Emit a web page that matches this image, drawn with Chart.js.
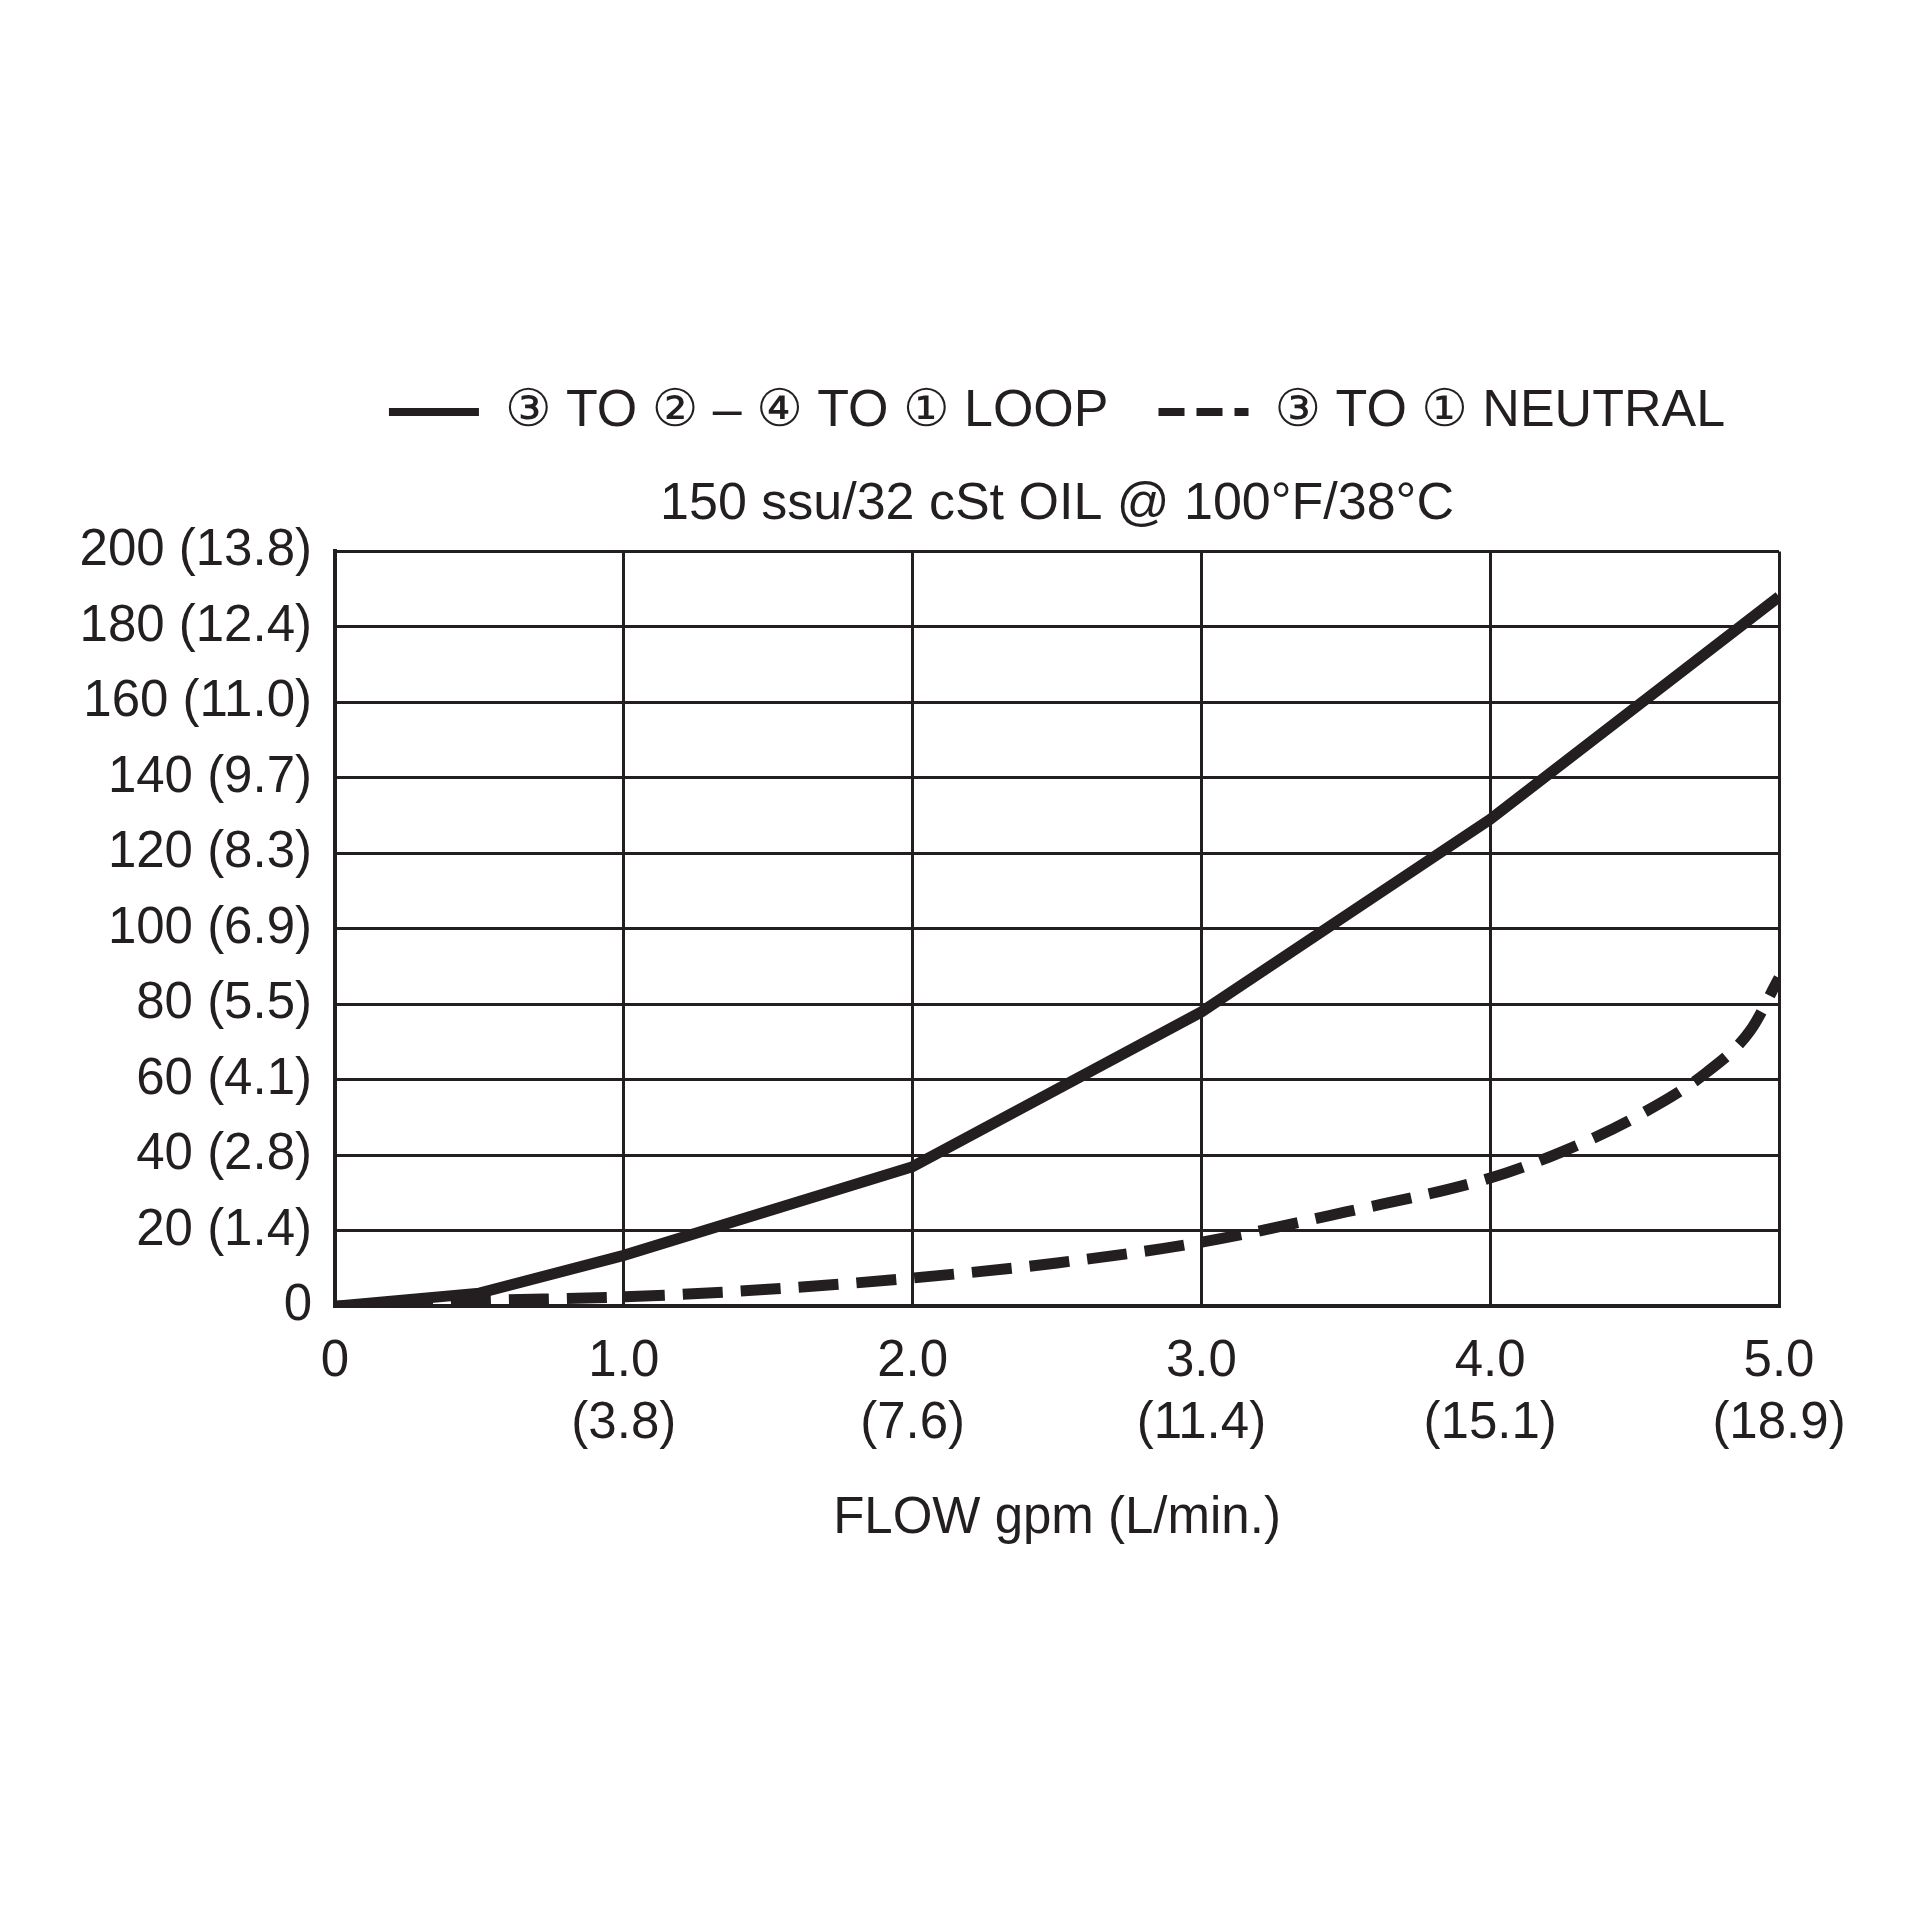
<!DOCTYPE html>
<html>
<head>
<meta charset="utf-8">
<title>Pressure drop vs flow</title>
<script src="https://cdn.jsdelivr.net/npm/chart.js@4.4.0/dist/chart.umd.min.js"></script>
<style>
    html, body { margin: 0; padding: 0; background: #ffffff; }
    #wrap { width: 1920px; height: 1920px; }
</style>
</head>
<body>
<div id="wrap"><canvas id="flowChart" width="1920" height="1920"></canvas></div>
<script>
// Axis ticks and labels
const flowTicks = [0, 1, 2, 3, 4, 5];
const gpmLabels = ['0', '1.0', '2.0', '3.0', '4.0', '5.0'];
const lpmLabels = ['', '(3.8)', '(7.6)', '(11.4)', '(15.1)', '(18.9)'];

const psiTicks = [0, 20, 40, 60, 80, 100, 120, 140, 160, 180, 200];
const psiLabels = ['0', '20', '40', '60', '80', '100', '120', '140', '160', '180', '200'];
const barLabels = ['', '(1.4)', '(2.8)', '(4.1)', '(5.5)', '(6.9)', '(8.3)', '(9.7)', '(11.0)', '(12.4)', '(13.8)'];

// Series
const loopFlow = [0, 0.5, 1.0, 2.0, 3.0, 4.0, 5.0];
const loopPressure = [0, 3.5, 13.5, 37, 78, 129, 188];

const neutralFlow = [0, 0.5, 1.0, 1.5, 2.0, 2.5, 3.0, 3.5, 4.0, 4.25, 4.5, 4.75, 4.9, 5.0];
const neutralPressure = [0, 1.5, 2.5, 4.5, 7.5, 11.5, 17, 25, 34, 41, 50, 62, 73, 87];

const ink = '#231f20';
const fontFamily = '"Liberation Sans", "DejaVu Sans", Arial, sans-serif';

const toPoints = (xs, ys) => xs.map((x, i) => ({ x: x, y: ys[i] }));

const canvas = document.getElementById('flowChart');

new Chart(canvas.getContext('2d'), {
    type: 'line',
    data: {
        datasets: [{
            label: '\u2462 TO \u2461 \u2013 \u2463 TO \u2460 LOOP',
            data: toPoints(loopFlow, loopPressure),
            borderColor: ink,
            backgroundColor: ink,
            borderWidth: 11,
            pointRadius: 0,
            tension: 0,
            fill: false
        }, {
            label: '\u2462 TO \u2460 NEUTRAL',
            data: toPoints(neutralFlow, neutralPressure),
            borderColor: ink,
            backgroundColor: ink,
            borderWidth: 11,
            borderDash: [40, 18],
            pointRadius: 0,
            cubicInterpolationMode: 'monotone',
            fill: false
        }]
    },
    options: {
        responsive: false,
        animation: false,
        layout: { padding: { left: 80, right: 141, top: 336, bottom: 370 } },
        plugins: {
            legend: {
                position: 'top',
                weight: 3000,
                fullSize: false,
                labels: {
                    usePointStyle: true,
                    pointStyle: 'line',
                    pointStyleWidth: 90,
                    padding: 50,
                    color: ink,
                    font: { family: fontFamily, size: 52 },
                    generateLabels: (chart) => {
                        const items = Chart.defaults.plugins.legend.labels.generateLabels(chart);
                        items.forEach((item, i) => {
                            item.lineWidth = 8;
                            item.lineDash = i === 1 ? [26, 12] : [];
                        });
                        return items;
                    }
                }
            },
            title: {
                display: true,
                fullSize: false,
                text: '150 ssu/32 cSt OIL @ 100\u00b0F/38\u00b0C',
                color: ink,
                font: { family: fontFamily, size: 52, weight: 'normal' },
                padding: { top: 25, bottom: 16 }
            },
            tooltip: { enabled: false }
        },
        scales: {
            x: {
                type: 'linear',
                min: 0,
                max: 5,
                ticks: {
                    stepSize: 1,
                    autoSkip: false,
                    maxRotation: 0,
                    padding: 24,
                    color: ink,
                    font: { family: fontFamily, size: 51, lineHeight: 1.22 },
                    callback: (value) => {
                        const i = flowTicks.indexOf(value);
                        if (i < 0) return '';
                        return lpmLabels[i] ? [gpmLabels[i], lpmLabels[i]] : gpmLabels[i];
                    }
                },
                grid: { color: ink, lineWidth: 3, drawTicks: false },
                border: { color: ink, width: 4 },
                title: {
                    display: true,
                    text: 'FLOW gpm (L/min.)',
                    color: ink,
                    font: { family: fontFamily, size: 51, lineHeight: 1.22 },
                    padding: { top: 9, bottom: 0 }
                }
            },
            y: {
                min: 0,
                max: 200,
                afterFit: (scale) => { scale.width = 255; },
                ticks: {
                    stepSize: 20,
                    padding: 23,
                    color: ink,
                    font: { family: fontFamily, size: 51 },
                    callback: (value) => {
                        const i = psiTicks.indexOf(value);
                        if (i < 0) return '';
                        return barLabels[i] ? psiLabels[i] + ' ' + barLabels[i] : psiLabels[i];
                    }
                },
                grid: { color: ink, lineWidth: 3, drawTicks: false },
                border: { color: ink, width: 4 }
            }
        }
    }
});
</script>
</body>
</html>
